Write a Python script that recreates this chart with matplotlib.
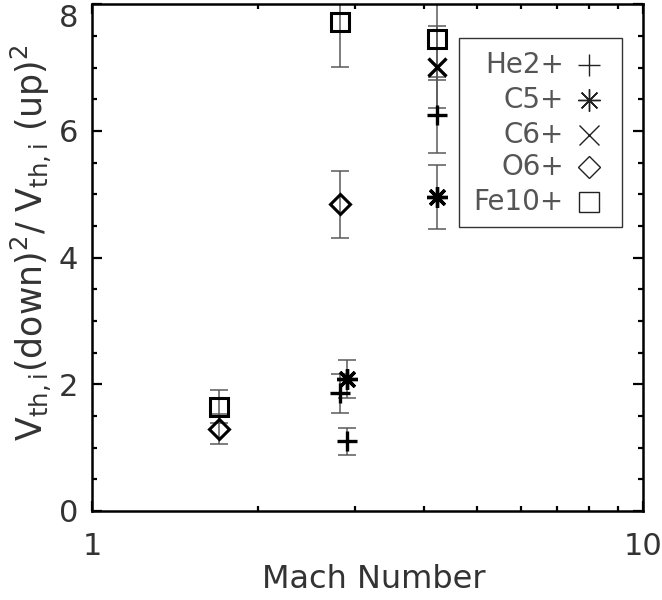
import matplotlib
matplotlib.use("Agg")
import matplotlib.pyplot as plt
from matplotlib.patches import Rectangle
from matplotlib.ticker import FixedLocator, NullFormatter, FixedFormatter

plt.rcParams['font.family'] = ['DejaVu Sans']
plt.rcParams['mathtext.default'] = 'regular'

# ---- data ----
he2_mach = [2.82, 2.91, 4.24]
he2_ratio = [1.86, 1.10, 6.26]
he2_err = [0.31, 0.21, 0.60]

c5_mach = [2.91, 4.24]
c5_ratio = [2.09, 4.96]
c5_err = [0.30, 0.50]

c6_mach = [4.24]
c6_ratio = [7.01]
c6_err = [0.64]

o6_mach = [1.70, 2.82]
o6_ratio = [1.29, 4.84]
o6_err = [0.24, 0.53]

fe10_mach = [1.70, 2.82, 4.24]
fe10_ratio = [1.645, 7.72, 7.46]
fe10_err = [0.26, 0.71, 0.66]

series_labels = ["He2+", "C5+", "C6+", "O6+", "Fe10+"]
x_ticks = [1, 10]
x_ticklabels = ["1", "10"]
y_ticks = [0, 2, 4, 6, 8]

# ---- figure ----
fig = plt.figure(figsize=(6.62, 6.0), dpi=100)
ax = fig.add_axes([92/662, 1-511/600, (642.7-92)/662, (511-4.3)/600])

ax.set_xscale('log')
ax.set_xlim(1, 10)
ax.set_ylim(0, 8)

asterisk = (8, 2, 0)
series = [
    (he2_mach, he2_ratio, he2_err, '+', 15, 2.4),
    (c5_mach, c5_ratio, c5_err, asterisk, 15, 2.4),
    (c6_mach, c6_ratio, c6_err, 'x', 13, 2.4),
    (o6_mach, o6_ratio, o6_err, 'D', 10, 2.2),
    (fe10_mach, fe10_ratio, fe10_err, 's', 13, 2.2),
]

for xs, ys, es, mk, ms, mew in series:
    ax.errorbar(xs, ys, yerr=es, fmt='none', ecolor='#5a5a5a', elinewidth=1.1,
                capsize=6.5, capthick=1.1, zorder=2)
for xs, ys, es, mk, ms, mew in series:
    ax.plot(xs, ys, linestyle='none', marker=mk, markersize=ms,
            markeredgewidth=mew, markerfacecolor='none', markeredgecolor='black',
            zorder=3)

# ticks
ax.xaxis.set_major_locator(FixedLocator(x_ticks))
ax.xaxis.set_major_formatter(FixedFormatter(x_ticklabels))
ax.xaxis.set_minor_locator(FixedLocator([2, 3, 4, 5, 6, 7, 8, 9]))
ax.xaxis.set_minor_formatter(NullFormatter())
ax.yaxis.set_major_locator(FixedLocator(y_ticks))
ax.yaxis.set_minor_locator(FixedLocator([v/2 for v in range(17)]))

ax.tick_params(which='both', direction='in', top=True, right=True,
               width=1.6, colors='black', labelcolor='#333333', labelsize=22)
ax.tick_params(which='major', length=7.5)
ax.tick_params(which='minor', length=3.5)
ax.tick_params(axis='x', which='major', pad=15)
ax.tick_params(axis='y', which='major', pad=10)
for sp in ax.spines.values():
    sp.set_linewidth(1.8)

fig.canvas.draw()
for t in ax.get_yticklabels():
    if t.get_text() == "8":
        t.set_verticalalignment('top')

fig.text(374/662, 1-579/600, "Mach Number", ha='center', va='center',
         fontsize=23, color='#333333')
fig.text(31/662, 1-243/600,
         r"$V_{th,i}$(down)$^2$/ $V_{th,i}$ (up)$^2$",
         ha='center', va='center', rotation=90, fontsize=25, color='#333333')

# legend (manual, right-aligned text like the original)
x0, x1 = (459-92)/550.7, (622-92)/550.7
y_top, y_bot = 1-(38-4.3)/507, 1-(227-4.3)/507
ax.add_patch(Rectangle((x0, y_bot), x1-x0, y_top-y_bot, transform=ax.transAxes,
                       fill=False, edgecolor='#333333', linewidth=1.0, zorder=4))
leg_markers = ['+', asterisk, 'x', 'D', 's']
leg_sizes = [16, 16, 14, 11, 14]
row_y = [65, 100, 135, 167, 202]
for lab, mk, ms, ry in zip(series_labels, leg_markers, leg_sizes, row_y):
    yy = 1-(ry-4.3)/507
    ax.text((564-92)/550.7, yy, lab, transform=ax.transAxes, ha='right',
            va='center', fontsize=20, color='#555555', zorder=5)
    ax.plot([(589-92)/550.7], [yy], transform=ax.transAxes, marker=mk,
            markersize=ms, markeredgewidth=1.0, markerfacecolor='none',
            markeredgecolor='#222222', linestyle='none', clip_on=False, zorder=5)

fig.savefig("out.png", dpi=100)
